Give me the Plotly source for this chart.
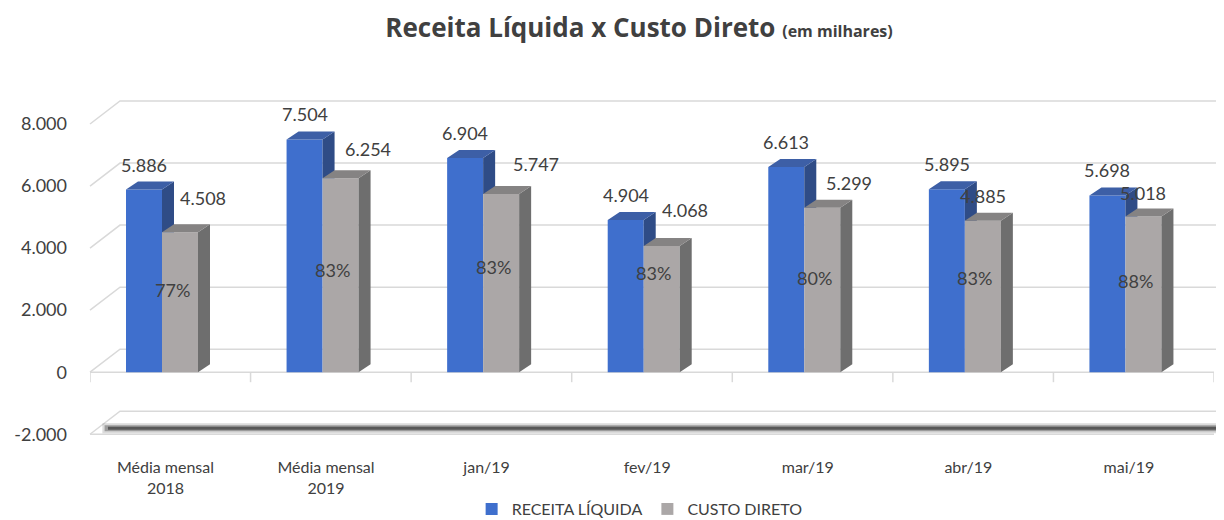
import plotly.graph_objects as go

# ---------------- data ----------------
categories = ["Média mensal<br>2018", "Média mensal<br>2019", "jan/19", "fev/19",
              "mar/19", "abr/19", "mai/19"]
receita = [5886, 7504, 6904, 4904, 6613, 5895, 5698]
custo = [4508, 6254, 5747, 4068, 5299, 4885, 5018]
pct_labels = ["77%", "83%", "83%", "83%", "80%", "83%", "88%"]
y_ticks = [-2000, 0, 2000, 4000, 6000, 8000]
series_names = ["RECEITA LÍQUIDA", "CUSTO DIRETO"]

# ---------------- layout / style ----------------
# the page body adds an 8px margin, so the figure is drawn 8px smaller and shifted
W, H = 1216, 512
ML, MR, MT, MB = 82, 10, 85, 78
Y_RANGE = [-2250, 9000]
plot_w = W - ML - MR
plot_h = H - MT - MB
px_x = plot_w / len(categories)            # px per category unit
px_y = plot_h / (Y_RANGE[1] - Y_RANGE[0])  # px per data unit

BAR_W = 36 / px_x
BLUE_OFF = -0.5 + 36 / px_x
GRAY_OFF = BLUE_OFF + BAR_W
DX = 12 / px_x          # 3D depth (x)
DY = 8 / px_y           # 3D depth (y)

BLUE_FRONT, BLUE_TOP, BLUE_SIDE = "#3f6fcd", "#3d5fa6", "#2f4c86"
GRAY_FRONT, GRAY_TOP, GRAY_SIDE = "#aba7a7", "#858383", "#6e6e6e"
TXT = "#404040"
FONT = "Lato, Open Sans, sans-serif"
TITLE_FONT = "Open Sans, Lato, sans-serif"

# per-category fine placement of the gray value labels and % labels (px / data units)
gray_label_dx = [23, 27, 35, 23, 27, 0, 0]
gray_label_dy = [34, 29, 30, 36, 25, 25, 24]
pct_label_y = [2650, 3300, 3400, 3200, 3050, 3050, 2950]

idx = list(range(len(categories)))
fmt = lambda v: f"{v:,}".replace(",", ".")

fig = go.Figure()

# front faces (bars)
fig.add_trace(go.Bar(x=idx, y=receita, name=series_names[0], offset=BLUE_OFF, width=BAR_W,
                     marker=dict(color=BLUE_FRONT, line=dict(width=0)), hoverinfo="y"))
fig.add_trace(go.Bar(x=idx, y=custo, name=series_names[1], offset=GRAY_OFF, width=BAR_W,
                     marker=dict(color=GRAY_FRONT, line=dict(width=0)), hoverinfo="y"))


def faces(values, off, clip=None):
    side_x, side_y, top_x, top_y = [], [], [], []
    for k, (i, v) in enumerate(zip(idx, values)):
        L = i + off
        R = L + BAR_W
        lo = 0 if clip is None else min(clip[k], v)
        side_x += [R, R + DX, R + DX, R, R, None]
        side_y += [lo, lo if clip is not None else DY, v + DY, v, lo, None]
        top_x += [L, R, R + DX, L + DX, L, None]
        top_y += [v, v, v + DY, v + DY, v, None]
    return side_x, side_y, top_x, top_y


for values, off, clip, cs, ct in [(receita, BLUE_OFF, custo, BLUE_SIDE, BLUE_TOP),
                                  (custo, GRAY_OFF, None, GRAY_SIDE, GRAY_TOP)]:
    sx, sy, tx, ty = faces(values, off, clip)
    fig.add_trace(go.Scatter(x=sx, y=sy, mode="lines", fill="toself", fillcolor=cs,
                             line=dict(width=0, color=cs), showlegend=False, hoverinfo="skip"))
    fig.add_trace(go.Scatter(x=tx, y=ty, mode="lines", fill="toself", fillcolor=ct,
                             line=dict(width=0, color=ct), showlegend=False, hoverinfo="skip"))

LBL = dict(size=18, color=TXT, family=FONT)
annotations = []
for k, i in enumerate(idx):
    annotations.append(dict(x=i + BLUE_OFF + BAR_W / 2, y=receita[k], text=fmt(receita[k]),
                            showarrow=False, yshift=25, font=LBL))
    annotations.append(dict(x=i + GRAY_OFF + BAR_W / 2, y=custo[k], text=fmt(custo[k]),
                            showarrow=False, xshift=gray_label_dx[k], yshift=gray_label_dy[k],
                            font=LBL))
    annotations.append(dict(x=i + GRAY_OFF + BAR_W / 2, y=pct_label_y[k], text=pct_labels[k],
                            showarrow=False, xshift=-8, font=LBL))

# decorative grid / floors (3D look)
GRID = "#d9d9d9"
shapes = []
back_dx = 30 / plot_w
back_dy = 23 / px_y
right_end = 1 + 10 / plot_w
for t in y_ticks:
    shapes.append(dict(type="path", xref="paper", yref="y", layer="below",
                       path=f"M 0,{t} L {back_dx},{t + back_dy} L {right_end},{t + back_dy}",
                       line=dict(color=GRID, width=1.5)))
for t in [0, -2000]:
    shapes.append(dict(type="line", xref="paper", yref="y", layer="below",
                       x0=0, x1=1, y0=t, y1=t, line=dict(color=GRID, width=1.5)))
for b in [i - 0.5 for i in idx] + [idx[-1] + 0.5]:
    shapes.append(dict(type="line", xref="x", yref="y", layer="below",
                       x0=b, x1=b, y0=0, y1=-10 / px_y, line=dict(color=GRID, width=1.5)))
# dark soft shadow floor at -2000
band_y = -2000 + 6 / px_y
for col, wdt, x0 in [("rgba(110,110,110,0.25)", 10, 0.011),
                     ("rgba(80,80,80,0.45)", 6, 0.013),
                     ("rgba(60,60,60,0.7)", 3, 0.016)]:
    shapes.append(dict(type="line", xref="paper", yref="y", x0=x0, x1=right_end,
                       y0=band_y, y1=band_y, line=dict(color=col, width=wdt)))

fig.update_layout(
    width=W, height=H,
    margin=dict(l=ML, r=MR, t=MT, b=MB, autoexpand=False),
    paper_bgcolor="white", plot_bgcolor="white",
    barmode="overlay",
    separators=",.",
    title=dict(
        text="<b>Receita Líquida x Custo Direto</b> <b><span style='font-size:16px'>(em milhares)</span></b>",
        x=631 / W, xanchor="center", xref="container", y=1 - 20 / H, yanchor="middle",
        font=dict(size=26, color=TXT, family=TITLE_FONT)),
    xaxis=dict(range=[-0.5, len(categories) - 0.5], tickmode="array",
               tickvals=[i - 0.03 for i in idx], ticktext=categories,
               showgrid=False, zeroline=False, showline=False, ticks="",
               ticklabelstandoff=14, tickfont=dict(size=16, color=TXT, family=FONT)),
    yaxis=dict(range=Y_RANGE, tickmode="array", tickvals=y_ticks,
               ticktext=[fmt(v) for v in y_ticks],
               showgrid=False, zeroline=False, showline=False, ticks="",
               ticklabelstandoff=22, tickfont=dict(size=18, color=TXT, family=FONT)),
    legend=dict(orientation="h", x=0.489, xanchor="center", y=-67 / plot_h, yanchor="middle",
                font=dict(size=16, color=TXT, family=FONT), bgcolor="rgba(0,0,0,0)"),
    annotations=annotations,
    shapes=shapes,
    showlegend=True,
)

fig.write_html("out.html")
